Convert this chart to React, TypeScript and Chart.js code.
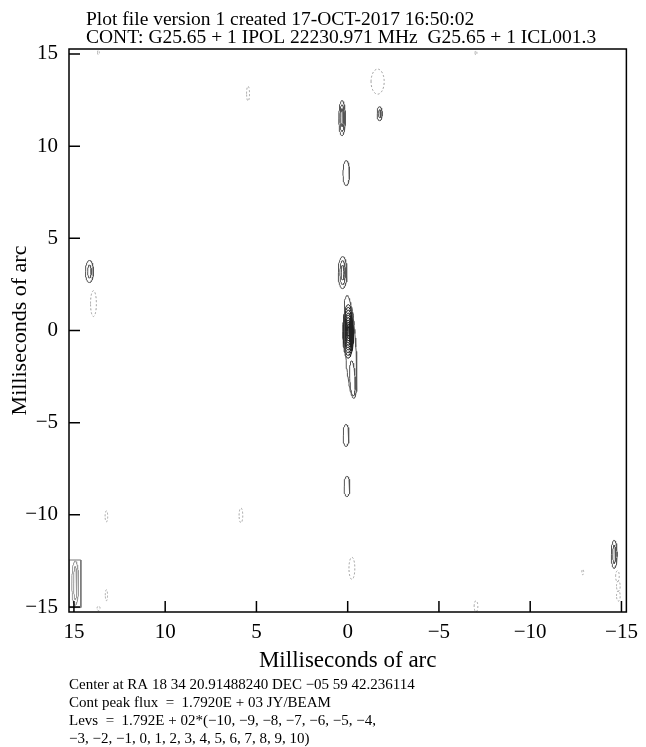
import React, { useEffect, useRef } from 'react';
import { Chart, registerables } from 'chart.js';

Chart.register(...registerables);

const titleLines = [
  'Plot file version 1 created 17-OCT-2017 16:50:02',
  'CONT: G25.65 + 1 IPOL 22230.971 MHz  G25.65 + 1 ICL001.3',
];
const noteLines = [
  'Center at RA 18 34 20.91488240 DEC \u221205 59 42.236114',
  'Cont peak flux  =  1.7920E + 03 JY/BEAM',
  'Levs  =  1.792E + 02*(\u221210, \u22129, \u22128, \u22127, \u22126, \u22125, \u22124,',
  '\u22123, \u22122, \u22121, 0, 1, 2, 3, 4, 5, 6, 7, 8, 9, 10)',
];
const axisTitle = 'Milliseconds of arc';
const xTickValues = [15, 10, 5, 0, -5, -10, -15];
const yTickValues = [15, 10, 5, 0, -5, -10, -15];
const axisLimit = 15.27;

// positive (solid) contours: centre x, centre y, half-width, half-height, shear
const posCx = [0.31, 0.31, 0.31, -1.75, -1.75, 0.08, 0.28, 0.28, 0.28, 14.15, 14.15, -0.15, -0.26, 0.09, 0.04, -14.6, -14.6];
const posCy = [11.52, 11.52, 11.55, 11.76, 11.76, 8.54, 3.14, 3.14, 3.14, 3.2, 3.2, -0.89, -2.6, -5.69, -8.46, -12.14, -12.14];
const posRx = [0.18, 0.12, 0.07, 0.14, 0.06, 0.18, 0.24, 0.15, 0.08, 0.22, 0.1, 0.3, 0.15, 0.16, 0.16, 0.16, 0.08];
const posRy = [0.95, 0.72, 0.48, 0.38, 0.22, 0.68, 0.87, 0.65, 0.4, 0.6, 0.35, 2.79, 0.95, 0.6, 0.55, 0.76, 0.5];
const posShear = [0, 0, 0, 0, 0, 0, 0, 0, 0, 0, 0, 0.068, 0.05, 0, 0, 0, 0];

// central core nested contours (levels 1..10)
const coreCx = -0.03;
const coreCy = -0.05;
const coreRx = [0.3, 0.27, 0.25, 0.22, 0.2, 0.17, 0.15, 0.12, 0.09, 0.06];
const coreRy = [1.45, 1.3, 1.15, 1.0, 0.88, 0.75, 0.62, 0.5, 0.38, 0.26];

// negative (dashed) contours
const negCx = [13.66, -7.03, -1.64, 5.46, 13.93, -0.23, 13.22, 5.85, 13.65, 13.22, -7.03, -14.78, -14.83, -14.83, -12.88];
const negCy = [15.08, 15.06, 13.5, 12.85, 1.46, -12.9, -10.08, -10.03, -15.07, -14.36, -14.96, -13.33, -13.87, -14.4, -13.1];
const negRx = [0.05, 0.05, 0.36, 0.08, 0.16, 0.16, 0.07, 0.1, 0.08, 0.06, 0.1, 0.1, 0.1, 0.1, 0.05];
const negRy = [0.12, 0.12, 0.68, 0.4, 0.7, 0.6, 0.3, 0.4, 0.12, 0.3, 0.3, 0.3, 0.28, 0.28, 0.15];

// beam
const beamCx = 14.93;
const beamCy = -13.7;
const beamRx = [0.19, 0.09];
const beamRy = [1.2, 0.9];
const beamBoxX = [15.27, 14.62];
const beamBoxY = [-12.45, -15.03];

const SERIF = "'Liberation Serif', 'Times New Roman', Times, serif";

function ellipse(cx: number, cy: number, rx: number, ry: number, shear: number) {
  const pts: { x: number; y: number }[] = [];
  const n = 72;
  for (let k = 0; k <= n; k++) {
    const t = (2 * Math.PI * k) / n;
    const dy = ry * Math.sin(t);
    pts.push({ x: cx + rx * Math.cos(t) + shear * dy, y: cy + dy });
  }
  return pts;
}

function fmt(v: number) {
  return v < 0 ? '\u2212' + Math.abs(v) : String(v);
}

export default function App() {
  const ref = useRef<HTMLCanvasElement | null>(null);

  useEffect(() => {
    if (!ref.current) return;
    const datasets: any[] = [];
    const base = { showLine: true, pointRadius: 0, tension: 0, fill: false, borderWidth: 1 };
    posCx.forEach((cx, i) => {
      datasets.push({ ...base, data: ellipse(cx, posCy[i], posRx[i], posRy[i], posShear[i]), borderColor: '#555' });
    });
    coreRx.forEach((rx, i) => {
      datasets.push({ ...base, data: ellipse(coreCx, coreCy, rx, coreRy[i], 0), borderColor: '#222' });
    });
    negCx.forEach((cx, i) => {
      datasets.push({ ...base, data: ellipse(cx, negCy[i], negRx[i], negRy[i], 0), borderColor: '#999', borderDash: [2, 2] });
    });
    beamRx.forEach((rx, i) => {
      datasets.push({ ...base, data: ellipse(beamCx, beamCy, rx, beamRy[i], 0), borderColor: '#999' });
    });
    datasets.push({
      ...base,
      borderColor: '#777',
      data: [
        { x: beamBoxX[0], y: beamBoxY[0] },
        { x: beamBoxX[1], y: beamBoxY[0] },
        { x: beamBoxX[1], y: beamBoxY[1] },
        { x: beamBoxX[0], y: beamBoxY[1] },
        { x: beamBoxX[0], y: beamBoxY[0] },
      ],
    });

    const decor = {
      id: 'decor',
      afterDraw(chart: any) {
        const { ctx, chartArea: a, scales } = chart;
        ctx.save();
        ctx.strokeStyle = '#000';
        ctx.lineWidth = 1.5;
        ctx.strokeRect(a.left, a.top, a.right - a.left, a.bottom - a.top);
        ctx.beginPath();
        xTickValues.forEach((v) => {
          const px = scales.x.getPixelForValue(v);
          ctx.moveTo(px, a.bottom);
          ctx.lineTo(px, a.bottom - 11);
        });
        yTickValues.forEach((v) => {
          const py = scales.y.getPixelForValue(v);
          ctx.moveTo(a.left, py);
          ctx.lineTo(a.left + 11, py);
        });
        ctx.stroke();
        ctx.fillStyle = '#000';
        ctx.textBaseline = 'alphabetic';
        ctx.textAlign = 'left';
        ctx.font = `19.5px ${SERIF}`;
        ctx.fillText(titleLines[0], 86, 25);
        ctx.fillText(titleLines[1], 86, 43);
        ctx.font = `15px ${SERIF}`;
        noteLines.forEach((t, i) => ctx.fillText(t, 69, 689 + i * 18));
        ctx.restore();
      },
    };

    const chart = new Chart(ref.current, {
      type: 'scatter',
      data: { datasets },
      plugins: [decor],
      options: {
        animation: false,
        responsive: false,
        devicePixelRatio: 1,
        layout: { padding: { left: 0, right: 14, top: 49, bottom: 72 } },
        plugins: { legend: { display: false }, tooltip: { enabled: false }, title: { display: false } },
        scales: {
          x: {
            type: 'linear',
            min: -axisLimit,
            max: axisLimit,
            reverse: true,
            afterFit: (s: any) => { s.height = 63; },
            afterBuildTicks: (s: any) => { s.ticks = xTickValues.map((v) => ({ value: v })); },
            grid: { display: false, drawTicks: false },
            border: { display: false },
            ticks: { padding: 8, color: '#000', font: { family: SERIF, size: 21 }, callback: (v: any) => fmt(Number(v)), maxRotation: 0, autoSkip: false },
            title: { display: true, text: axisTitle, color: '#000', font: { family: SERIF, size: 23 }, padding: { top: 0, bottom: 0 } },
          },
          y: {
            type: 'linear',
            min: -axisLimit,
            max: axisLimit,
            afterFit: (s: any) => { s.width = 69; },
            afterBuildTicks: (s: any) => { s.ticks = yTickValues.map((v) => ({ value: v })); },
            grid: { display: false, drawTicks: false },
            border: { display: false },
            ticks: { padding: 11, color: '#000', font: { family: SERIF, size: 21 }, callback: (v: any) => fmt(Number(v)), autoSkip: false },
            title: { display: true, text: axisTitle, color: '#000', font: { family: SERIF, size: 22 }, padding: { top: 7, bottom: 0 } },
          },
        },
      },
    });
    return () => chart.destroy();
  }, []);

  return (
    <div style={{ position: 'absolute', left: 0, top: 0, width: 646, height: 747, background: '#fff' }}>
      <canvas ref={ref} width={646} height={747} style={{ width: 646, height: 747, display: 'block' }} />
    </div>
  );
}
